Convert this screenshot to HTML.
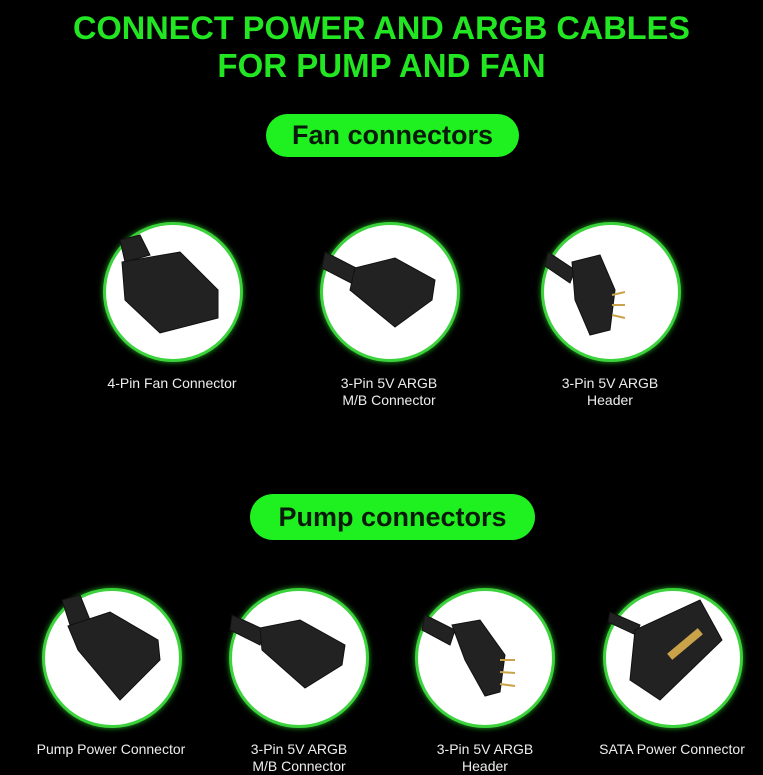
<!DOCTYPE html><html><head><style>
body{margin:0;width:763px;height:773px;background:#000;position:relative;overflow:hidden;font-family:"Liberation Sans",sans-serif}
.t{position:absolute;left:0;width:763px;text-align:center;color:#22e622;font-weight:bold;font-size:33px;line-height:37px}
.pill{position:absolute;background:#1ff01f;border-radius:24px;color:#0a1a0a;font-weight:bold;font-size:27px;text-align:center}
.c{position:absolute;width:134px;height:134px;border-radius:50%;background:#fff;border:3px solid #3cd23c;box-shadow:0 0 6px #2a2}
.l{position:absolute;width:200px;text-align:center;color:#eee;font-size:14px;line-height:17px}
svg{position:absolute;left:0;top:0}
</style></head><body>
<div class="t" style="top:10px;font-size:32.5px">CONNECT POWER AND ARGB CABLES</div>
<div class="t" style="top:47px">FOR PUMP AND FAN</div>
<div class="pill" style="left:266px;top:114px;width:253px;height:43px;line-height:43px">Fan connectors</div>
<div class="pill" style="left:250px;top:494px;width:285px;height:46px;line-height:46px">Pump connectors</div>

<div class="c" style="left:103px;top:222px"></div>
<div class="c" style="left:320px;top:222px"></div>
<div class="c" style="left:541px;top:222px"></div>
<div class="c" style="left:42px;top:588px"></div>
<div class="c" style="left:229px;top:588px"></div>
<div class="c" style="left:415px;top:588px"></div>
<div class="c" style="left:603px;top:588px"></div>

<svg width="763" height="773">
<g fill="#222" stroke="#111">
<path d="M120 240 L140 235 L150 255 L125 262Z"/>
<path d="M122 262 L180 252 L218 290 L218 318 L160 333 L125 300Z"/>
<path d="M325 252 L360 270 L355 285 L322 268Z"/>
<path d="M355 268 L395 258 L435 280 L432 300 L395 327 L350 290Z"/>
<path d="M548 252 L575 270 L570 283 L545 266Z"/>
<path d="M572 262 L600 255 L615 290 L610 330 L590 335 L575 300Z"/>
<path d="M62 600 L80 595 L90 620 L70 625Z"/>
<path d="M68 626 L110 612 L158 640 L160 660 L120 700 L78 650Z"/>
<path d="M232 615 L265 630 L260 645 L230 630Z"/>
<path d="M260 628 L300 620 L345 645 L342 665 L305 688 L262 650Z"/>
<path d="M425 615 L455 630 L450 645 L422 630Z"/>
<path d="M452 625 L480 620 L505 655 L500 692 L485 696 L465 660Z"/>
<path d="M610 612 L640 625 L636 635 L608 622Z"/>
<path d="M635 630 L700 600 L722 640 L660 700 L630 680Z"/>
</g>
<g fill="#c9a24a"><rect x="665" y="640" width="40" height="8" transform="rotate(-40 685 644)"/></g>
<g stroke="#c9a24a" stroke-width="2"><line x1="612" y1="295" x2="625" y2="292"/><line x1="612" y1="305" x2="625" y2="305"/><line x1="612" y1="315" x2="625" y2="318"/>
<line x1="500" y1="660" x2="515" y2="660"/><line x1="500" y1="672" x2="515" y2="673"/><line x1="500" y1="684" x2="515" y2="686"/></g>
</svg>

<div class="l" style="left:72px;top:375px">4-Pin Fan Connector</div>
<div class="l" style="left:289px;top:375px">3-Pin 5V ARGB<br>M/B Connector</div>
<div class="l" style="left:510px;top:375px">3-Pin 5V ARGB<br>Header</div>
<div class="l" style="left:11px;top:741px">Pump Power Connector</div>
<div class="l" style="left:199px;top:741px">3-Pin 5V ARGB<br>M/B Connector</div>
<div class="l" style="left:385px;top:741px">3-Pin 5V ARGB<br>Header</div>
<div class="l" style="left:572px;top:741px">SATA Power Connector</div>
</body></html>
